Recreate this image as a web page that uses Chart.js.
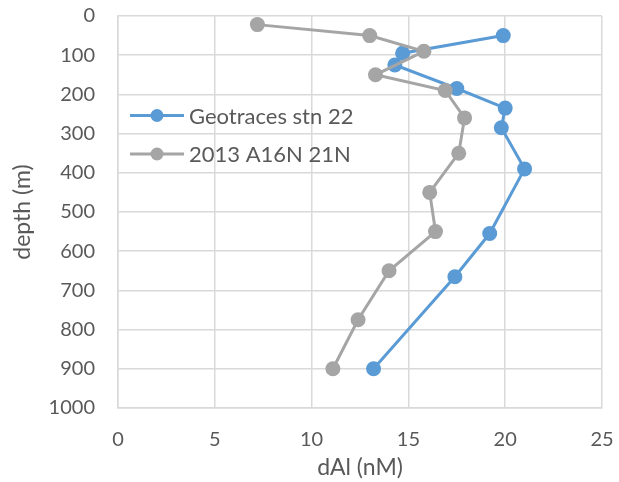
<!DOCTYPE html>
<html>
<head>
<meta charset="utf-8">
<script src="https://cdn.jsdelivr.net/npm/chart.js@4/dist/chart.umd.min.js"></script>
<style>
  html, body { margin: 0; padding: 0; background: #ffffff; }
  #wrap { width: 619px; height: 482px; }
</style>
</head>
<body>
<div id="wrap"><canvas id="c" width="619" height="482"></canvas></div>
<script>
// Dissolved aluminium profiles: concentration (nM) against depth (m)
const seriesNames = ['Geotraces stn 22', '2013 A16N 21N'];

const geotracesDAl   = [19.9, 14.7, 14.3, 17.5, 20.0, 19.8, 21.0, 19.2, 17.4, 13.2];
const geotracesDepth = [50, 95, 125, 185, 235, 285, 390, 555, 665, 900];

const a16nDAl   = [7.2, 13.0, 15.8, 13.3, 16.9, 17.9, 17.6, 16.1, 16.4, 14.0, 12.4, 11.1];
const a16nDepth = [22, 50, 90, 150, 190, 260, 350, 450, 550, 650, 775, 900];

const xTicks = [0, 5, 10, 15, 20, 25];
const yTicks = [0, 100, 200, 300, 400, 500, 600, 700, 800, 900, 1000];

const BLUE = '#5B9BD5';
const GREY = '#A5A5A5';
const TEXT = '#595959';
const GRID = '#D9D9D9';
const FONT = 'Lato, "Open Sans", sans-serif';

const toPoints = (xs, ys) => xs.map((x, i) => ({ x: x, y: ys[i] }));

const datasets = [
  {
    label: seriesNames[0],
    data: toPoints(geotracesDAl, geotracesDepth),
    borderColor: BLUE, backgroundColor: BLUE,
    pointBackgroundColor: BLUE, pointBorderColor: BLUE,
    order: 2
  },
  {
    label: seriesNames[1],
    data: toPoints(a16nDAl, a16nDepth),
    borderColor: GREY, backgroundColor: GREY,
    pointBackgroundColor: GREY, pointBorderColor: GREY,
    order: 1
  }
].map(d => Object.assign({
  showLine: true, borderWidth: 3, pointRadius: 7.5, pointHoverRadius: 7.5,
  pointBorderWidth: 0, tension: 0, fill: false
}, d));

// Legend drawn inside the plot area, over the grid
const insideLegend = {
  id: 'insideLegend',
  afterDraw(chart) {
    const ctx = chart.ctx;
    const rows = [
      { y: 115.5, color: BLUE, text: seriesNames[0] },
      { y: 154, color: GREY, text: seriesNames[1] }
    ];
    ctx.save();
    rows.forEach(r => {
      ctx.strokeStyle = r.color;
      ctx.lineWidth = 3;
      ctx.beginPath();
      ctx.moveTo(130, r.y);
      ctx.lineTo(184, r.y);
      ctx.stroke();
      ctx.fillStyle = r.color;
      ctx.beginPath();
      ctx.arc(157, r.y, 6.5, 0, Math.PI * 2);
      ctx.fill();
      ctx.fillStyle = TEXT;
      ctx.font = '22px ' + FONT;
      ctx.textAlign = 'left';
      ctx.textBaseline = 'middle';
      ctx.fillText(r.text, 189, r.y + 1);
    });
    ctx.restore();
  }
};

new Chart(document.getElementById('c'), {
  type: 'scatter',
  data: { datasets: datasets },
  options: {
    responsive: false,
    animation: false,
    events: [],
    layout: { padding: { left: 0, right: 17, top: 16, bottom: 0 } },
    plugins: {
      legend: { display: false },
      tooltip: { enabled: false }
    },
    scales: {
      x: {
        type: 'linear',
        min: 0, max: 25,
        afterBuildTicks(scale) { scale.ticks = xTicks.map(v => ({ value: v })); },
        afterFit(scale) {
          scale.height = 74;
          scale.paddingLeft = 0; scale.paddingRight = 0;
        },
        grid: { color: GRID, lineWidth: 1.5, drawTicks: false },
        border: { color: GRID, width: 1.5 },
        ticks: {
          color: TEXT, font: { family: FONT, size: 20 }, padding: 20, maxRotation: 0,
          callback: v => String(v)
        },
        title: {
          display: true, text: 'dAl (nM)', color: TEXT,
          font: { family: FONT, size: 23 }, padding: { top: 0, bottom: 1 }
        }
      },
      y: {
        type: 'linear',
        reverse: true,
        min: 0, max: 1000,
        afterBuildTicks(scale) { scale.ticks = yTicks.map(v => ({ value: v })); },
        afterFit(scale) {
          scale.width = 118;
          scale.paddingTop = 0; scale.paddingBottom = 0;
        },
        grid: { color: GRID, lineWidth: 1.5, drawTicks: false },
        border: { color: GRID, width: 1.5 },
        ticks: {
          color: TEXT, font: { family: FONT, size: 20 }, padding: 23,
          callback: v => String(v)
        },
        title: {
          display: true, text: 'depth (m)', color: TEXT,
          font: { family: FONT, size: 23 }, padding: { top: 9, bottom: 0 }
        }
      }
    }
  },
  plugins: [insideLegend]
});
</script>
</body>
</html>
